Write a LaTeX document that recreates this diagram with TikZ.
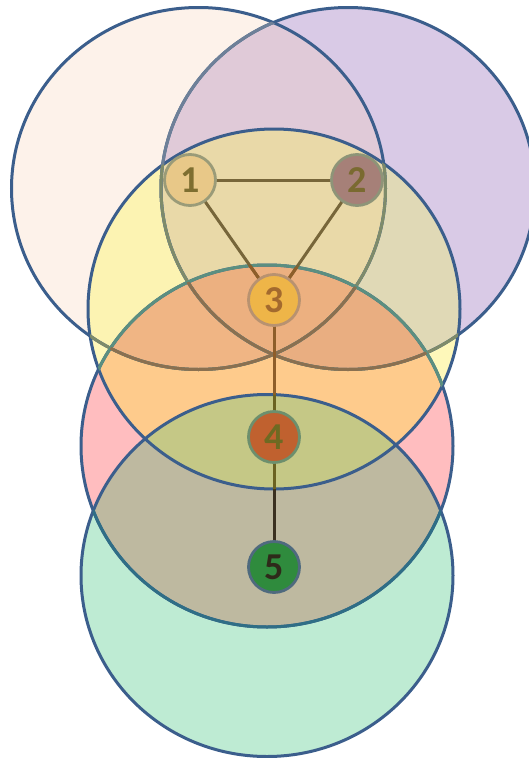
\documentclass[tikz,border=0pt]{standalone}
\usepackage{fontspec}
\setmainfont{Carlito}
\pgfdeclarelayer{bg}
\pgfdeclarelayer{ln}
\pgfsetlayers{bg,ln,main}
\definecolor{cAonly}{HTML}{FDF2EA}
\definecolor{cBonly}{HTML}{D9CAE6}
\definecolor{cAB}{HTML}{E0CAD8}
\definecolor{cConly}{HTML}{FEF8BA}
\definecolor{cAC}{HTML}{FCF3B2}
\definecolor{cBC}{HTML}{E0D9B6}
\definecolor{cABC}{HTML}{E9D9A8}
\definecolor{cDonly}{HTML}{FFBDBF}
\definecolor{cCD}{HTML}{FECB8C}
\definecolor{cACD}{HTML}{F0B584}
\definecolor{cBCD}{HTML}{E9AE81}
\definecolor{cABCD}{HTML}{ECB080}
\definecolor{cEonly}{HTML}{BEEBD3}
\definecolor{cDE}{HTML}{BEB9A0}
\definecolor{cCDE}{HTML}{C5C886}
\definecolor{ringblue}{HTML}{3B5E8C}
\definecolor{sBinA}{HTML}{6E8098}
\definecolor{sInC}{HTML}{7E8B6A}
\definecolor{sInCD}{HTML}{8A7050}
\definecolor{sDinC}{HTML}{5B8F80}
\definecolor{sDinE}{HTML}{2F6E86}
\definecolor{edgeol}{HTML}{77663A}
\definecolor{edgebr}{HTML}{8E5E2A}
\definecolor{edgeolg}{HTML}{6B6222}
\definecolor{edgedk}{HTML}{3A3020}
\definecolor{nAf}{HTML}{E8C888}
\definecolor{nAd}{HTML}{9A9B78}
\definecolor{nAt}{HTML}{7E6E30}
\definecolor{nBf}{HTML}{A68078}
\definecolor{nBd}{HTML}{8E9478}
\definecolor{nBt}{HTML}{7A6A30}
\definecolor{nCf}{HTML}{EEB548}
\definecolor{nCd}{HTML}{B89270}
\definecolor{nCt}{HTML}{A36A2E}
\definecolor{nDf}{HTML}{C0612F}
\definecolor{nDd}{HTML}{6D8F6D}
\definecolor{nDt}{HTML}{6E6A22}
\definecolor{nEf}{HTML}{2F8B3D}
\definecolor{nEd}{HTML}{4F6A7E}
\definecolor{nEt}{HTML}{2E2A1A}
\tikzset{
  pA/.style={insert path={(198.5,188.5) ellipse [x radius=187pt, y radius=181pt]}},
  pB/.style={insert path={(348,188.5) ellipse [x radius=187pt, y radius=181pt]}},
  pC/.style={insert path={(274,309) ellipse [x radius=186pt, y radius=180pt]}},
  pD/.style={insert path={(267,446) ellipse [x radius=186pt, y radius=181pt]}},
  pE/.style={insert path={(267,575.5) ellipse [x radius=186pt, y radius=181pt]}},
  ring/.style={draw=ringblue, line width=3pt},
  edge/.style={line width=3pt},
  vtx/.style={circle, minimum size=51pt, inner sep=0pt, line width=2.8pt,
    font=\fontsize{38}{38}\selectfont\bfseries}
}
\begin{document}
\begin{tikzpicture}[x=1pt,y=-1pt]
\useasboundingbox (0,0) rectangle (529,758);
% nodes
\node[vtx, fill=nAf, draw=nAd, text=nAt] (n1) at (190,180) {1};
\node[vtx, fill=nBf, draw=nBd, text=nBt] (n2) at (357,180) {2};
\node[vtx, fill=nCf, draw=nCd, text=nCt] (n3) at (274,300) {3};
\node[vtx, fill=nDf, draw=nDd, text=nDt] (n4) at (274,437) {4};
\node[vtx, fill=nEf, draw=nEd, text=nEt] (n5) at (274,567) {5};
% edges
\begin{pgfonlayer}{ln}
\draw[edge, edgeol] (n1.center) -- (n2.center);
\draw[edge, edgeol] (n1.center) -- (n3.center);
\draw[edge, edgeol] (n2.center) -- (n3.center);
\draw[edge, edgeol] (n3.center) -- (n4.center);
\draw[edge, edgedk] (n4.center) -- (n5.center);
\begin{scope}
\clip[pD]; \clip[pC];
\draw[edge, edgebr] (n1.center) -- (n3.center);
\draw[edge, edgebr] (n2.center) -- (n3.center);
\draw[edge, edgebr] (n3.center) -- (n4.center);
\draw[edge, edgebr] (n4.center) -- (n5.center);
\end{scope}
\begin{scope}
\clip[pE]; \clip[pD]; \clip[pC];
\draw[edge, edgeolg] (n3.center) -- (n4.center);
\draw[edge, edgeolg] (n4.center) -- (n5.center);
\end{scope}
\end{pgfonlayer}
% circles
\begin{pgfonlayer}{bg}
\clip (0,0) rectangle (529,758);
\fill[cBonly, pB];
\fill[cAonly, pA];
\begin{scope}\clip[pA]; \fill[cAB, pB];\end{scope}
\fill[cConly, pC];
\begin{scope}\clip[pC]; \fill[cAC, pA]; \fill[cBC, pB]; \clip[pA]; \fill[cABC, pB];\end{scope}
\fill[cDonly, pD];
\begin{scope}\clip[pD]; \fill[cCD, pC]; \clip[pC]; \fill[cACD, pA]; \fill[cBCD, pB]; \clip[pA]; \fill[cABCD, pB];\end{scope}
\fill[cEonly, pE];
\begin{scope}\clip[pE]; \fill[cDE, pD]; \clip[pD]; \fill[cCDE, pC];\end{scope}
% rings
\path[ring, pB]; \path[ring, pA]; \path[ring, pC]; \path[ring, pD]; \path[ring, pE];
\begin{scope}\clip[pA]; \path[ring, draw=sBinA, pB];\end{scope}
\begin{scope}\clip[pC]; \path[ring, draw=sInC, pA]; \path[ring, draw=sInC, pB]; \path[ring, draw=sDinC, pD];\end{scope}
\begin{scope}\clip[pC]; \clip[pD]; \path[ring, draw=sInCD, pA]; \path[ring, draw=sInCD, pB];\end{scope}
\begin{scope}\clip[pE]; \path[ring, draw=sDinE, pD];\end{scope}
\end{pgfonlayer}
\end{tikzpicture}
\end{document}
